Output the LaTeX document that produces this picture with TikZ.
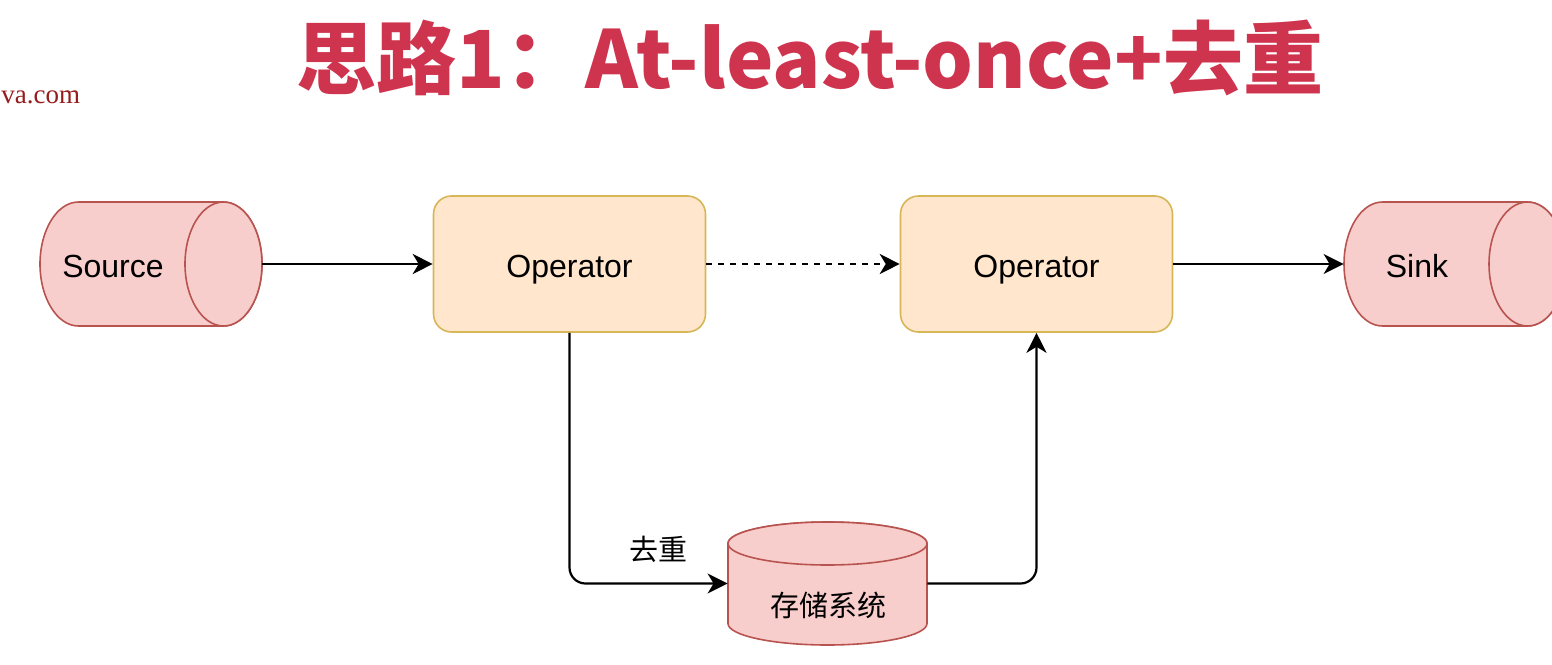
\documentclass[tikz,border=0pt]{standalone}
\usepackage{fontspec}
\setmainfont{Liberation Sans}
\newfontfamily\cjk{Noto Sans CJK SC}
\newfontfamily\markfont{Liberation Serif}
\usetikzlibrary{arrows.meta}

\definecolor{titlered}{RGB}{207,52,79}
\definecolor{markred}{RGB}{150,28,28}
\definecolor{cylfill}{HTML}{F8CECC}
\definecolor{cylline}{HTML}{B85450}
\definecolor{opfill}{HTML}{FFE6CC}
\definecolor{opline}{HTML}{D6B656}

\tikzset{
	opbox/.style={draw=opline, fill=opfill, line width=0.8pt, rounded corners=9pt,
		minimum width=136pt, minimum height=68pt, inner sep=0pt,
		text height=16pt, text depth=2.4pt, font=\fontsize{16}{18}\selectfont},
	drumbox/.style={inner sep=0pt, minimum width=111pt, minimum height=62pt},
	drum/.style={draw=cylline, fill=cylfill, line width=0.8pt},
	flow/.style={-{Stealth[length=10pt,width=10pt,inset=3pt]}, line width=1.1pt, rounded corners=8pt},
	lbl/.style={inner sep=0pt, text height=16pt, text depth=2.4pt, font=\fontsize{16}{18}\selectfont},
	cjklbl/.style={inner sep=0pt, font=\cjk\fontsize{14.5}{16}\selectfont},
}

\begin{document}
\begin{tikzpicture}[x=0.5pt,y=-0.5pt]
	\useasboundingbox (0,0) rectangle (1552,664);
	%Title
	\node[text=titlered, inner sep=0pt, font=\cjk\bfseries\fontsize{40}{44}\selectfont] (title) at (810,58) {思路1：At-least-once+去重};
	\node[text=markred, anchor=west, inner sep=0pt, font=\markfont\fontsize{13.5}{15}\selectfont] (mark) at (1,97) {va.com};
	%Cylinders
	\node[drumbox] (src) at (151,264) {};
	\node[drumbox] (snk) at (1455,264) {};
	\node[drumbox, minimum width=99.5pt, minimum height=61.5pt] (store) at (827.5,583.5) {};
	\foreach \cx in {151,1455}{
		\draw[drum] (\cx-72.5,202) arc[start angle=270, end angle=90, x radius=38.5, y radius=62]
			-- (\cx+72.5,326) arc[start angle=90, end angle=-90, x radius=38.5, y radius=62] -- cycle;
		\draw[drum] (\cx+72.5,264) ellipse[x radius=38.5, y radius=62];
	}
	\draw[drum] (728,543.5) -- (728,623.5) arc[start angle=180, end angle=0, x radius=99.5, y radius=21.5]
		-- (927,543.5) arc[start angle=0, end angle=-180, x radius=99.5, y radius=21.5] -- cycle;
	\draw[drum] (827.5,543.5) ellipse[x radius=99.5, y radius=21.5];
	\node[lbl] (srctxt) at (113,264) {Source};
	\node[lbl] (snktxt) at (1417,264) {Sink};
	\node[cjklbl] (storetxt) at (828,605) {存储系统};
	%Operators
	\node[opbox] (op1) at (569.5,264) {Operator};
	\node[opbox] (op2) at (1036.5,264) {Operator};
	%Arrows
	\draw[flow] (src.east) -- (op1.west);
	\draw[flow, dash pattern=on 3pt off 3pt] (op1.east) -- (op2.west);
	\draw[flow] (op2.east) -- (snk.west);
	\draw[flow] (op1.south) |- node[cjklbl, pos=0.78, yshift=17pt] (dedup) {去重} (store.west);
	\draw[flow] (store.east) -| (op2.south);
\end{tikzpicture}
\end{document}
